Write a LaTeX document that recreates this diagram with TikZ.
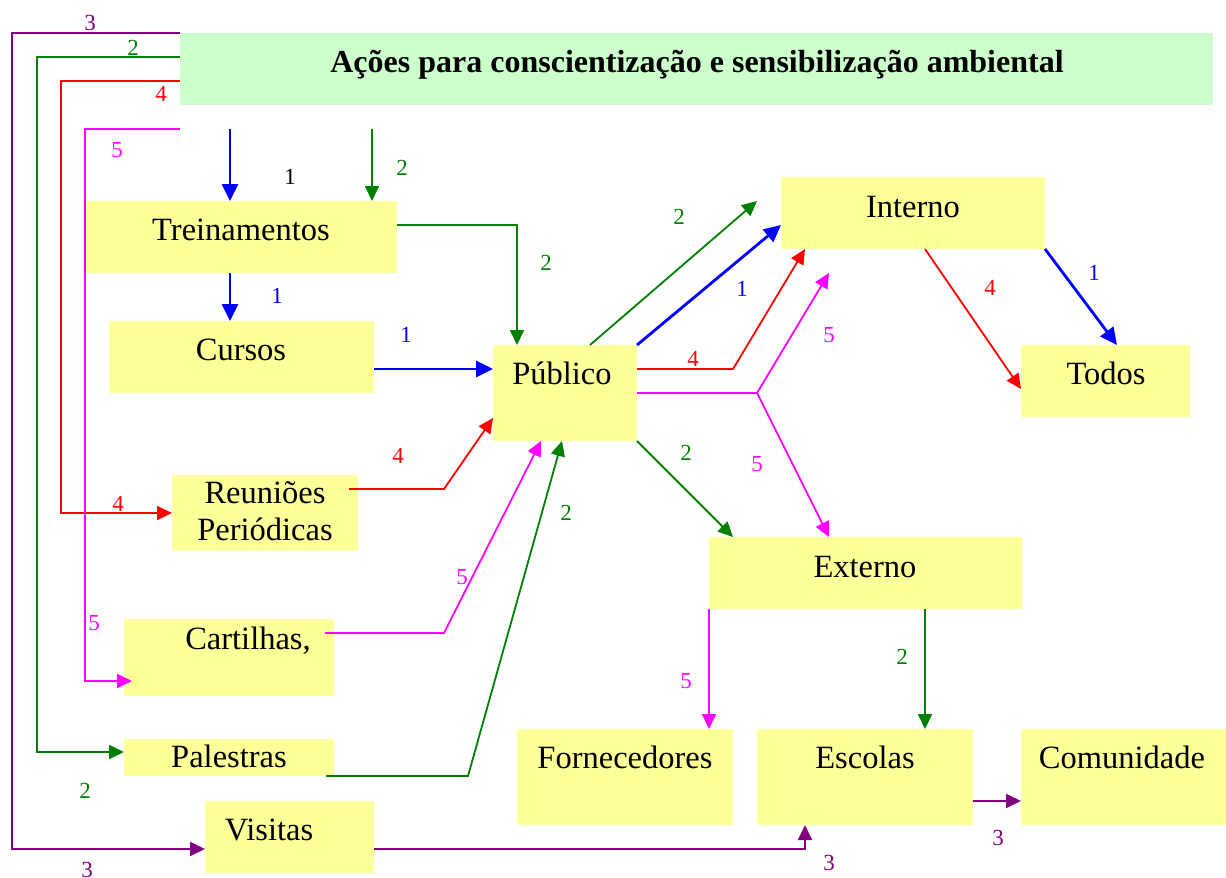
\documentclass[tikz,border=0pt]{standalone}
\usepackage{fontspec}
\setmainfont{Liberation Serif}
\usetikzlibrary{arrows.meta,fit,calc}
\definecolor{byel}{HTML}{FFFF99}
\definecolor{tgreen}{HTML}{CCFFCC}
\definecolor{cgreen}{HTML}{008000}
\definecolor{cblue}{HTML}{0000FF}
\definecolor{cred}{HTML}{FF0000}
\definecolor{cmag}{HTML}{FF00FF}
\definecolor{cpurple}{HTML}{800080}
\begin{document}
\begin{tikzpicture}[x=1pt,y=-1pt,
  box/.style={fill=byel, draw=none, inner sep=0pt, outer sep=0pt},
  tbox/.style={fill=tgreen, draw=none, inner sep=0pt, outer sep=0pt},
  txt/.style={inner sep=0pt, anchor=base, font=\fontsize{32.5}{37}\selectfont},
  ttl/.style={inner sep=0pt, anchor=base, font=\bfseries\fontsize{32}{37}\selectfont},
  lbl/.style={inner sep=0pt, anchor=base, font=\fontsize{23}{27}\selectfont},
  arr/.style={-{Triangle[length=15pt,width=14pt]}},
  barr/.style={-{Triangle[length=17pt,width=16pt]}},
  c1/.style={draw=cblue, line width=2.8pt},
  c2/.style={draw=cgreen, line width=1.8pt},
  c3/.style={draw=cpurple, line width=1.8pt},
  c4/.style={draw=cred, line width=1.8pt},
  c5/.style={draw=cmag, line width=1.8pt},
  line join=miter]
\useasboundingbox (0,0) rectangle (1226,878);

% boxes
\node[tbox, fit={(180,33) (1213,105)}] (title) {};
\node[box, fit={(86,201) (397,273)}] (trein) {};
\node[box, fit={(109,321) (374,393)}] (cursos) {};
\node[box, fit={(493,345) (637,441)}] (pub) {};
\node[box, fit={(172,475) (358,551)}] (reun) {};
\node[box, fit={(124,619) (334,696)}] (cart) {};
\node[box, fit={(124,739) (334,776)}] (pal) {};
\node[box, fit={(205,801) (374,873)}] (vis) {};
\node[box, fit={(781,177) (1045,249)}] (int) {};
\node[box, fit={(1021,345) (1190,417)}] (todos) {};
\node[box, fit={(709,537) (1022,609)}] (ext) {};
\node[box, fit={(517,729) (733,825)}] (forn) {};
\node[box, fit={(757,729) (973,825)}] (esc) {};
\node[box, fit={(1021,729) (1226,825)}] (com) {};

% free coordinates
\coordinate (sb) at (230,129);
\coordinate (sg) at (372,129);
\coordinate (sm) at (180,129);
\coordinate (br) at (757,393);
\coordinate (eg) at (757,201);
\coordinate (em) at (829,273);

% purple 3
\draw[c3,arr] (title.north west) -- (12,33) |- (vis.west |- 0,849);
\draw[c3,arr] (vis.east |- 0,849) -- (805,849) -- (805,0 |- esc.south);
\draw[c3,arr] (esc.east |- 0,801) -- (com.west |- 0,801);
% green 2
\draw[c2,arr] (title.west |- 0,57) -- (37,57) |- (pal.west |- 0,752);
\draw[c2,arr] (sg) -- (372,0 |- trein.north);
\draw[c2,arr] (trein.east |- 0,225) -- (517,225) -- (517,0 |- pub.north);
\draw[c2,arr] (326,0 |- pal.south) -- (468,776) -- (562,0 |- pub.south);
\draw[c2,arr] (590,0 |- pub.north) -- (eg);
\draw[c2,arr] (pub.south east) -- (733,0 |- ext.north);
\draw[c2,arr] (925,0 |- ext.south) -- (925,0 |- esc.north);
% red 4
\draw[c4,arr] (title.west |- 0,81) -- (61,81) |- (reun.west |- 0,513);
\draw[c4,arr] (349,489) -- (444,489) -- (pub.west |- 0,418);
\draw[c4,arr] (pub.east |- 0,369) -- (733,369) -- (805,0 |- int.south);
\draw[c4,arr] (925,0 |- int.south) -- (todos.west |- 0,389);
% magenta 5
\draw[c5,arr] (sm) -- (85,129) |- ($(cart.west |- 0,681)+(8,0)$);
\draw[c5,arr] (325,633) -- (444,633) -- (541,0 |- pub.south);
\draw[c5] (pub.east |- 0,393) -- (br);
\draw[c5,arr] (br) -- (em);
\draw[c5,arr] (br) -- (829,0 |- ext.north);
\draw[c5,arr] (709,0 |- ext.south) -- (709,0 |- forn.north);
% blue 1
\draw[c1,barr] (sb) -- (230,0 |- trein.north);
\draw[c1,barr] (230,0 |- trein.south) -- (230,0 |- cursos.north);
\draw[c1,barr] (cursos.east |- 0,369) -- (pub.west |- 0,369);
\draw[c1,barr] (pub.north east) -- (int.west |- 0,225);
\draw[c1,barr] (int.south east) -- (1117,0 |- todos.north);

% texts
\node[ttl] (tt) at (697,72) {Ações para conscientização e sensibilização ambiental};
\node[txt] (t1) at (241,240) {Treinamentos};
\node[txt] (t2) at (241,360) {Cursos};
\node[txt] (t3) at (562,384) {Público};
\node[txt] (t4) at (265,503) {Reuniões};
\node[txt] (t5) at (265,540) {Periódicas};
\node[txt] (t6) at (248,649) {Cartilhas,};
\node[txt] (t7) at (229,767) {Palestras};
\node[txt] (t8) at (269,840) {Visitas};
\node[txt] (t9) at (913,217) {Interno};
\node[txt] (t10) at (1106,384) {Todos};
\node[txt] (t11) at (865,577) {Externo};
\node[txt] (t12) at (625,768) {Fornecedores};
\node[txt] (t13) at (865,768) {Escolas};
\node[txt] (t14) at (1122,768) {Comunidade};

% labels
\node[lbl, text=cpurple] (l1) at (90,30) {3};
\node[lbl, text=cgreen] (l2) at (133,55) {2};
\node[lbl, text=cred] (l3) at (161,101) {4};
\node[lbl, text=cmag] (l4) at (117,157) {5};
\node[lbl, text=black] (l5) at (290,184) {1};
\node[lbl, text=cgreen] (l6) at (402,175) {2};
\node[lbl, text=cblue] (l7) at (277,303) {1};
\node[lbl, text=cblue] (l8) at (406,342) {1};
\node[lbl, text=cred] (l9) at (398,463) {4};
\node[lbl, text=cred] (l10) at (118,511) {4};
\node[lbl, text=cmag] (l11) at (94,630) {5};
\node[lbl, text=cmag] (l12) at (462,584) {5};
\node[lbl, text=cgreen] (l13) at (85,798) {2};
\node[lbl, text=cpurple] (l14) at (87,877) {3};
\node[lbl, text=cgreen] (l15) at (546,270) {2};
\node[lbl, text=cgreen] (l16) at (679,224) {2};
\node[lbl, text=cblue] (l17) at (742,296) {1};
\node[lbl, text=cred] (l18) at (693,366) {4};
\node[lbl, text=cmag] (l19) at (829,342) {5};
\node[lbl, text=cgreen] (l20) at (566,520) {2};
\node[lbl, text=cgreen] (l21) at (686,460) {2};
\node[lbl, text=cmag] (l22) at (757,471) {5};
\node[lbl, text=cred] (l23) at (990,295) {4};
\node[lbl, text=cblue] (l24) at (1094,280) {1};
\node[lbl, text=cmag] (l25) at (686,688) {5};
\node[lbl, text=cgreen] (l26) at (902,664) {2};
\node[lbl, text=cpurple] (l27) at (829,870) {3};
\node[lbl, text=cpurple] (l28) at (998,845) {3};
\end{tikzpicture}
\end{document}
